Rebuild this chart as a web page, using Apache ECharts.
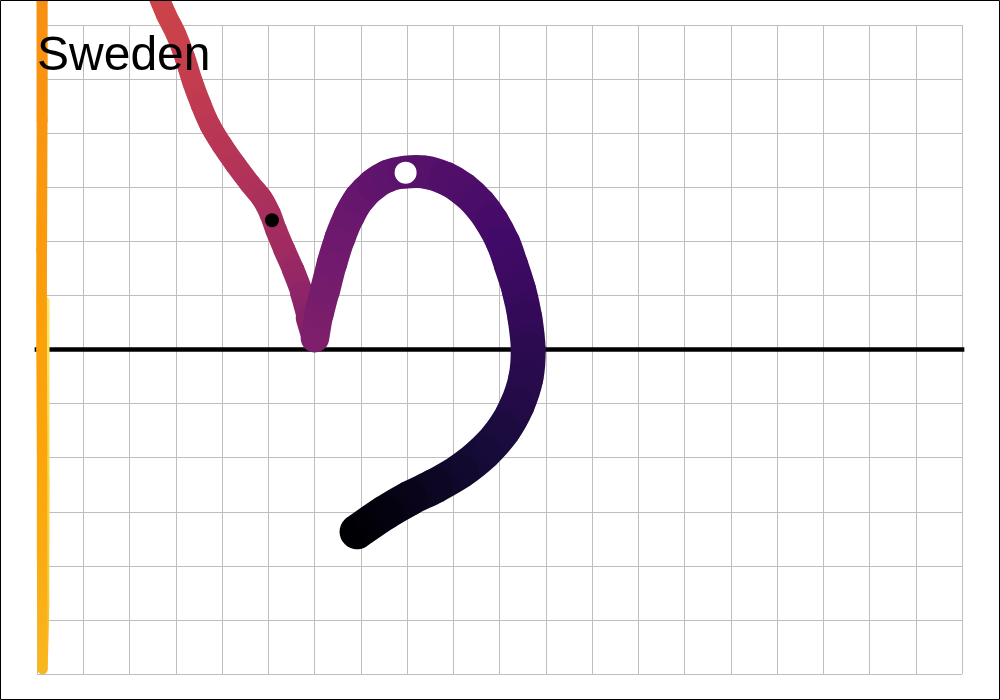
<!DOCTYPE html>
<html><head><meta charset="utf-8">
<script src="https://cdn.jsdelivr.net/npm/echarts@6/dist/echarts.min.js"></script>
<style>html,body{margin:0;padding:0;background:#fff}#c{width:1000px;height:700px}</style>
</head><body><div id="c"></div>
<script>
// ---- data ----
const titleText = 'Sweden';
const pathX = [6.92,7.52,8.06,8.61,9.15,9.66,10.08,10.38,10.57,10.62,10.55,10.42,10.25,10.08,9.84,9.56,9.21,8.82,8.39,7.96,7.59,7.26,6.98,6.75,6.55,6.38,6.23,6.10,6.01,
  5.88,5.73,5.54,5.34,5.17,5.04,4.86,4.61,4.30,4.00,3.74,3.55,3.37,3.20,3.01,2.79,2.59,
  2.23,0.93,0.11,
  0.11,0.11,0.10,0.10,0.11,0.11,0.12,
  0.16,0.17,0.17];
const pathY = [-3.37,-3.02,-2.75,-2.52,-2.25,-1.90,-1.49,-1.03,-0.53,0.00,0.58,1.10,1.56,1.97,2.36,2.69,2.97,3.17,3.28,3.28,3.21,3.04,2.80,2.47,2.06,1.60,1.10,0.66,0.21,
  0.58,1.04,1.47,1.86,2.21,2.51,2.80,3.06,3.41,3.78,4.15,4.52,4.93,5.39,5.82,6.20,6.61,
  7.39,7.57,7.20,
  6.46,4.24,1.84,0.00,-1.86,-3.89,-5.91,
  -4.63,-2.41,0.90];
const pathT = [0.00,0.02,0.04,0.06,0.08,0.10,0.115,0.13,0.14,0.15,0.165,0.18,0.19,0.20,0.21,0.22,0.23,0.24,0.25,0.26,0.27,0.28,0.29,0.30,0.31,0.32,0.33,0.34,0.35,
  0.37,0.39,0.41,0.43,0.44,0.45,0.46,0.47,0.48,0.49,0.50,0.51,0.52,0.53,0.54,0.545,0.55,
  0.60,0.68,0.74,
  0.75,0.765,0.78,0.79,0.80,0.815,0.835,
  0.87,0.90,0.94];
const cornerIdx = [28, 55];
const markerX = [5.08, 7.97];
const markerY = [2.39, 3.27];
const zeroLineX = [0, 20];

// ---- styles ----
const infernoStops = ['#000004','#160b39','#420a68','#6a176e','#932667','#bc3754','#dd513a','#f37819','#fca50a','#f6d746','#fcffa4'];
function hex(c){return [parseInt(c.slice(1,3),16),parseInt(c.slice(3,5),16),parseInt(c.slice(5,7),16)];}
function inferno(t){
  t=Math.max(0,Math.min(1,t));
  const f=t*10, i=Math.min(9,Math.floor(f)), r=f-i;
  const a=hex(infernoStops[i]), b=hex(infernoStops[i+1]);
  return 'rgb('+a.map((v,k)=>Math.round(v+(b[k]-v)*r)).join(',')+')';
}
const widthStops = [[0,35],[0.15,35],[0.25,33],[0.33,30],[0.35,28],[0.38,23],[0.45,21.5],[0.55,20.5],[0.7,13],[0.76,11],[0.85,10],[0.95,9],[1,9]];
function widthAt(t){
  for(let i=0;i<widthStops.length-1;i++){
    const a=widthStops[i], b=widthStops[i+1];
    if(t<=b[0]) return a[1]+(b[1]-a[1])*(t-a[0])/(b[0]-a[0]);
  }
  return widthStops[widthStops.length-1][1];
}

const n = pathX.length;
const segs=[];
for(let i=n-2;i>=0;i--){
  const p = (i===0 || cornerIdx.includes(i)) ? i : i-1;
  const q = (i+1===n-1 || cornerIdx.includes(i+1)) ? i+1 : i+2;
  segs.push([pathX[p],pathY[p],pathX[i],pathY[i],pathX[i+1],pathY[i+1],pathX[q],pathY[q],pathT[i],pathT[i+1]]);
}

const chart = echarts.init(document.getElementById('c'), null, {renderer:'canvas'});
const axisCommon = {
  axisLine:{show:false}, axisTick:{show:false}, axisLabel:{show:false},
  splitLine:{show:true, lineStyle:{color:'#bebebe', width:1}}
};
chart.setOption({
  animation:false,
  backgroundColor:'#fff',
  grid:{left:37, right:38, top:25, bottom:26, containLabel:false},
  xAxis:Object.assign({type:'value', min:0, max:20, interval:1}, axisCommon),
  yAxis:Object.assign({type:'value', min:-6, max:6, interval:1}, axisCommon),
  series:[
    {type:'line', data:zeroLineX.map(x=>[x,0]), symbol:'none', silent:true, z:1, clip:false,
     lineStyle:{color:'#000', width:4.7, cap:'square'}},
    {type:'custom', data:segs, clip:false, silent:true, z:2,
     encode:{x:[2,4], y:[3,5]},
     renderItem:function(params, api){
       const P0=api.coord([api.value(0),api.value(1)]);
       const P1=api.coord([api.value(2),api.value(3)]);
       const P2=api.coord([api.value(4),api.value(5)]);
       const P3=api.coord([api.value(6),api.value(7)]);
       const t1=api.value(8), t2=api.value(9);
       const c1=[P1[0]+(P2[0]-P0[0])/6, P1[1]+(P2[1]-P0[1])/6];
       const c2=[P2[0]-(P3[0]-P1[0])/6, P2[1]-(P3[1]-P1[1])/6];
       return {type:'bezierCurve', shape:{x1:P1[0],y1:P1[1],x2:P2[0],y2:P2[1],cpx1:c1[0],cpy1:c1[1],cpx2:c2[0],cpy2:c2[1]},
         style:{stroke:new echarts.graphic.LinearGradient(P1[0],P1[1],P2[0],P2[1],[{offset:0,color:inferno(t1)},{offset:1,color:inferno(t2)}],true),
           lineWidth:(widthAt(t1)+widthAt(t2))/2, lineCap:'round', fill:null}};
     }},
    {type:'scatter', data:[[markerX[0],markerY[0]]], symbolSize:14, itemStyle:{color:'#000', opacity:1}, z:5, silent:true},
    {type:'scatter', data:[[markerX[1],markerY[1]]], symbolSize:22, itemStyle:{color:'#fff', opacity:1}, z:5, silent:true}
  ],
  graphic:[
    {type:'text', x:37, y:33, z:100, silent:true,
     style:{text:titleText, font:'48px "Liberation Sans", Arial, sans-serif', fill:'#000', textVerticalAlign:'top'}},
    {type:'rect', z:100, silent:true, shape:{x:0.5,y:0.5,width:999,height:699},
     style:{fill:null, stroke:'#000', lineWidth:1}}
  ]
});
</script>
</body></html>
